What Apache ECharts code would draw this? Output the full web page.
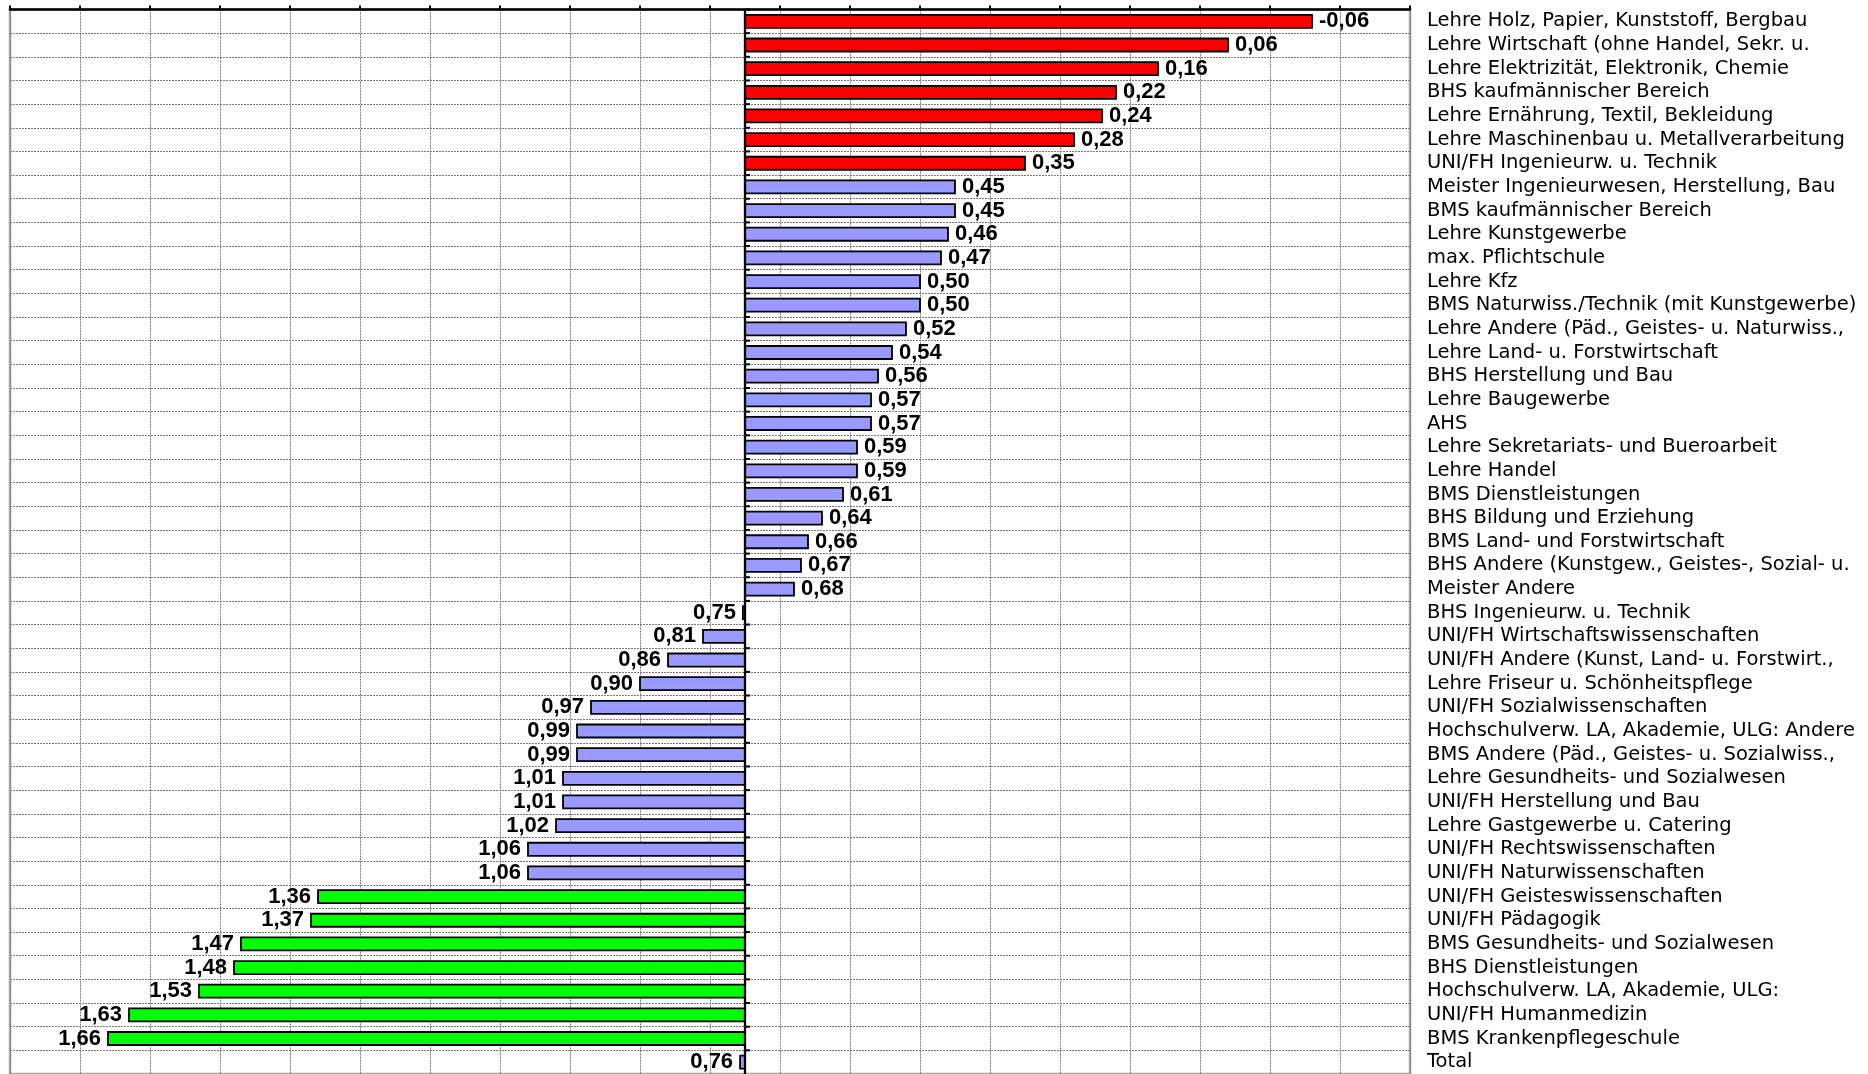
<!DOCTYPE html>
<html>
<head>
<meta charset="utf-8">
<script src="https://cdn.jsdelivr.net/npm/echarts@6/dist/echarts.min.js"></script>
<style>
  html, body { margin: 0; padding: 0; background: #fff; }
  #chart { width: 1868px; height: 1074px; }
</style>
</head>
<body>
<div id="chart"></div>
<script>
// Kategorien von oben nach unten
const categories = [
  "Lehre Holz, Papier, Kunststoff, Bergbau",
  "Lehre Wirtschaft (ohne Handel, Sekr. u.",
  "Lehre Elektrizität, Elektronik, Chemie",
  "BHS kaufmännischer Bereich",
  "Lehre Ernährung, Textil, Bekleidung",
  "Lehre Maschinenbau u. Metallverarbeitung",
  "UNI/FH Ingenieurw. u. Technik",
  "Meister Ingenieurwesen, Herstellung, Bau",
  "BMS kaufmännischer Bereich",
  "Lehre Kunstgewerbe",
  "max. Pflichtschule",
  "Lehre Kfz",
  "BMS Naturwiss./Technik (mit Kunstgewerbe)",
  "Lehre Andere (Päd., Geistes- u. Naturwiss.,",
  "Lehre Land- u. Forstwirtschaft",
  "BHS Herstellung und Bau",
  "Lehre Baugewerbe",
  "AHS",
  "Lehre Sekretariats- und Bueroarbeit",
  "Lehre Handel",
  "BMS Dienstleistungen",
  "BHS Bildung und Erziehung",
  "BMS Land- und Forstwirtschaft",
  "BHS Andere (Kunstgew., Geistes-, Sozial- u.",
  "Meister Andere",
  "BHS Ingenieurw. u. Technik",
  "UNI/FH Wirtschaftswissenschaften",
  "UNI/FH Andere (Kunst, Land- u. Forstwirt.,",
  "Lehre Friseur u. Schönheitspflege",
  "UNI/FH Sozialwissenschaften",
  "Hochschulverw. LA, Akademie, ULG: Andere",
  "BMS Andere (Päd., Geistes- u. Sozialwiss.,",
  "Lehre Gesundheits- und Sozialwesen",
  "UNI/FH Herstellung und Bau",
  "Lehre Gastgewerbe u. Catering",
  "UNI/FH Rechtswissenschaften",
  "UNI/FH Naturwissenschaften",
  "UNI/FH Geisteswissenschaften",
  "UNI/FH Pädagogik",
  "BMS Gesundheits- und Sozialwesen",
  "BHS Dienstleistungen",
  "Hochschulverw. LA, Akademie, ULG:",
  "UNI/FH Humanmedizin",
  "BMS Krankenpflegeschule",
  "Total"
];

const values = [
  -0.06, 0.06, 0.16, 0.22, 0.24, 0.28, 0.35,
  0.45, 0.45, 0.46, 0.47, 0.50, 0.50, 0.52, 0.54, 0.56, 0.57, 0.57,
  0.59, 0.59, 0.61, 0.64, 0.66, 0.67, 0.68, 0.753,
  0.81, 0.86, 0.90, 0.97, 0.99, 0.99, 1.01, 1.01, 1.02, 1.06, 1.06,
  1.36, 1.37, 1.47, 1.48, 1.53, 1.63, 1.66,
  0.757
];

// Achse kreuzt hier
const baseline = 0.75;

function barColor(v) {
  if (v < 0.4) return "#ff0000";
  if (v > 1.3) return "#00ff00";
  return "#9999ff";
}

function fmt(v) {
  return v.toFixed(2).replace(".", ",");
}

const chart = echarts.init(document.getElementById("chart"));

const option = {
  animation: false,
  backgroundColor: "#fff",
  grid: {
    left: 10,
    top: 9.5,
    width: 1400,
    height: 1068.4,
    show: true,
    borderColor: "#a8a8a8",
    borderWidth: 2.5,
    containLabel: false
  },
  xAxis: [
    {
      // Werteachse (umgekehrt), nur für die Koordinaten
      type: "value",
      min: -0.2,
      max: 1.8,
      inverse: true,
      show: false
    },
    {
      // Gitter und Striche oben
      type: "value",
      position: "top",
      min: 0,
      max: 20,
      interval: 1,
      axisLine: { show: true, lineStyle: { color: "#000", width: 2.5 } },
      axisTick: { show: true, length: 4, lineStyle: { color: "#000", width: 2 } },
      axisLabel: { show: false },
      splitLine: {
        show: true,
        lineStyle: { color: "#7a7a7a", width: 1, type: [2, 1] }
      }
    }
  ],
  yAxis: {
    type: "category",
    data: categories,
    inverse: true,
    position: "right",
    axisLine: { show: false },
    axisTick: { show: false },
    axisLabel: {
      interval: 0,
      margin: 17,
      color: "#000",
      fontFamily: "DejaVu Sans, Liberation Sans, sans-serif",
      fontSize: 19.5
    },
    splitLine: {
      show: true,
      lineStyle: { color: "#7a7a7a", width: 1, type: [2, 1] }
    }
  },
  series: [
    {
      type: "custom",
      xAxisIndex: 0,
      yAxisIndex: 0,
      data: values.map((v, i) => [v, i]),
      renderItem: function (params, api) {
        const v = api.value(0);
        const idx = api.value(1);
        const start = api.coord([baseline, idx]);
        const end = api.coord([v, idx]);
        const band = api.size([0, 1])[1];
        const h = band * 0.55;
        const left = end[0] < start[0];
        return {
          type: "group",
          children: [
            {
              type: "rect",
              shape: {
                x: Math.min(start[0], end[0]),
                y: start[1] - h / 2,
                width: Math.abs(end[0] - start[0]),
                height: h
              },
              style: { fill: barColor(v), stroke: "#000", lineWidth: 1.8 }
            },
            {
              type: "line",
              shape: { x1: start[0], y1: start[1] - band / 2, x2: start[0], y2: start[1] + band / 2 },
              style: { stroke: "#000", lineWidth: 2.3 }
            },
            {
              type: "line",
              shape: { x1: start[0], y1: start[1] - band / 2, x2: start[0] + 5, y2: start[1] - band / 2 },
              style: { stroke: "#000", lineWidth: 2 }
            },
            {
              type: "text",
              style: {
                x: left ? end[0] - 7 : end[0] + 7,
                y: start[1],
                text: fmt(v),
                align: left ? "right" : "left",
                verticalAlign: "middle",
                fill: "#000",
                fontFamily: "Liberation Sans Narrow, Arial Narrow, sans-serif",
                fontWeight: "bold",
                fontSize: 22
              }
            }
          ]
        };
      }
    }
  ]
};

chart.setOption(option);
</script>
</body>
</html>
